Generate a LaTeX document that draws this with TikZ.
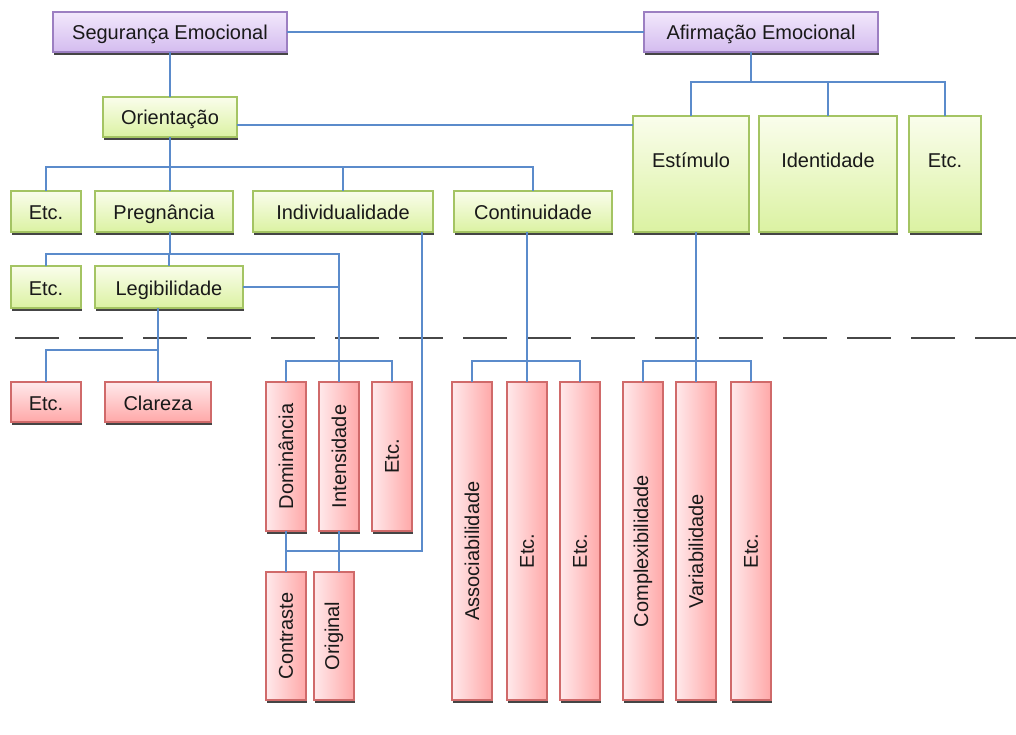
\documentclass[tikz,border=0pt]{standalone}
\usepackage{fontspec}
\setmainfont{Liberation Sans}
\usetikzlibrary{shadows}

\definecolor{purpTop}{HTML}{F2E8FC}
\definecolor{purpBot}{HTML}{D4BCEF}
\definecolor{purpLine}{HTML}{9C7FC2}
\definecolor{grnTop}{HTML}{FAFDEC}
\definecolor{grnBot}{HTML}{DBF2A2}
\definecolor{grnLine}{HTML}{A4C463}
\definecolor{redLight}{HTML}{FFE9EB}
\definecolor{redDark}{HTML}{FFA8A8}
\definecolor{redLine}{HTML}{D06A6A}
\definecolor{linkBlue}{HTML}{5B8BCB}
\definecolor{shadowGray}{HTML}{454545}

\tikzset{
  box/.style={draw, line width=1.1pt, inner sep=0pt, outer sep=0pt,
    text=black!90, font=\fontsize{20}{24}\selectfont,
    drop shadow={shadow xshift=0.6pt, shadow yshift=-3pt, fill=shadowGray, opacity=1}},
  flat/.style={text height=16pt, text depth=0pt},
  lilac/.style={box, flat, draw=purpLine, top color=purpTop, bottom color=purpBot},
  lime/.style={box, flat, draw=grnLine, top color=grnTop, bottom color=grnBot},
  rose/.style={box, flat, draw=redLine, top color=redLight, bottom color=redDark},
  roseV/.style={box, draw=redLine, left color=redLight, right color=redDark},
  link/.style={draw=linkBlue, line width=1.8pt},
  cutline/.style={draw=black!72, line width=1.6pt, dash pattern=on 44pt off 20pt}
}
\newcommand{\vtext}[1]{\rotatebox{90}{#1}}

\begin{document}
\begin{tikzpicture}[x=1pt,y=-1pt]
\useasboundingbox[fill=white] (0,0) rectangle (1016,735);

% upper level
\node[lilac, minimum width=234pt, minimum height=40pt] (seg) at (170,32) {Segurança Emocional};
\node[lilac, minimum width=234pt, minimum height=40pt] (afi) at (761,32) {Afirmação Emocional};
\node[lime, minimum width=134pt, minimum height=40pt] (ori) at (170,117) {Orientação};
\node[lime, minimum width=116pt, minimum height=116pt] (est) at (691,174) {\raisebox{14pt}{Estímulo}};
\node[lime, minimum width=138pt, minimum height=116pt] (idt) at (828,174) {\raisebox{14pt}{Identidade}};
\node[lime, minimum width=72pt, minimum height=116pt] (etcA) at (945,174) {\raisebox{14pt}{Etc.}};

\node[lime, minimum width=70pt, minimum height=41pt] (etcB) at (46,211.5) {Etc.};
\node[lime, minimum width=138pt, minimum height=41pt] (pre) at (164,211.5) {Pregnância};
\node[lime, minimum width=180pt, minimum height=41pt] (ind) at (343,211.5) {Individualidade};
\node[lime, minimum width=158pt, minimum height=41pt] (con) at (533,211.5) {Continuidade};

\node[lime, minimum width=70pt, minimum height=42pt] (etcC) at (46,287) {Etc.};
\node[lime, minimum width=148pt, minimum height=42pt] (leg) at (169,287) {Legibilidade};

% dashed separator
\draw[cutline] (15,338) -- (1016,338);

% lower level
\node[rose, minimum width=70pt, minimum height=40pt] (etcD) at (46,402) {Etc.};
\node[rose, minimum width=106pt, minimum height=40pt] (cla) at (158,402) {Clareza};

\node[roseV, minimum width=40pt, minimum height=149pt] (dom) at (286,456.5) {\vtext{Dominância}};
\node[roseV, minimum width=40pt, minimum height=149pt] (int) at (339,456.5) {\vtext{Intensidade}};
\node[roseV, minimum width=40pt, minimum height=149pt] (etcE) at (392,456.5) {\vtext{Etc.}};
\node[roseV, minimum width=40pt, minimum height=128pt] (ctr) at (286,636) {\vtext{Contraste}};
\node[roseV, minimum width=40pt, minimum height=128pt] (orig) at (334,636) {\vtext{Original}};

\node[roseV, minimum width=40pt, minimum height=318pt] (ass) at (472,541) {\vtext{Associabilidade\hspace{20pt}}};
\node[roseV, minimum width=40pt, minimum height=318pt] (etcF) at (527,541) {\vtext{Etc.\hspace{20pt}}};
\node[roseV, minimum width=40pt, minimum height=318pt] (etcG) at (580,541) {\vtext{Etc.\hspace{20pt}}};
\node[roseV, minimum width=40pt, minimum height=318pt] (cpx) at (643,541) {\vtext{Complexibilidade\hspace{20pt}}};
\node[roseV, minimum width=40pt, minimum height=318pt] (var) at (696,541) {\vtext{Variabilidade\hspace{20pt}}};
\node[roseV, minimum width=40pt, minimum height=318pt] (etcH) at (751,541) {\vtext{Etc.\hspace{20pt}}};

% bus points
\coordinate (oribus) at (170,167);
\coordinate (afibus) at (751,82);
\coordinate (prebus) at (170,254);
\coordinate (legbus) at (158,350);
\coordinate (intbus) at (339,361);
\coordinate (indbus) at (422,551);
\coordinate (conbus) at (527,361);
\coordinate (estbus) at (696,361);

% connectors
\draw[link] (seg.east) -- (afi.west);
\draw[link] (seg.south) -- (seg.south |- ori.north);
\draw[link] ([yshift=-8pt]ori.east) -- ([yshift=-8pt]ori.east -| est.west);
\draw[link] ([xshift=-10pt]afi.south) -- (afibus);
\draw[link] (est.north) |- (afibus) -| (etcA.north);
\draw[link] (idt.north) -- (idt.north |- afibus);
\draw[link] (ori.south) -- (ori.south |- pre.north);
\draw[link] (etcB.north) |- (oribus) -| (con.north);
\draw[link] (ind.north) -- (ind.north |- oribus);
\draw[link] (ori.south |- pre.south) -- (prebus);
\draw[link] (etcC.north) |- (prebus) -| (int.north);
\draw[link] (leg.north) -- (leg.north |- prebus);
\draw[link] (leg.east) -- (leg.east -| int.north);
\draw[link] (cla.north |- leg.south) -- (cla.north);
\draw[link] (etcD.north) |- (legbus);
\draw[link] (dom.north) |- (intbus) -| (etcE.north);
\draw[link] ([xshift=-11pt]ind.south east) -- (indbus) -- (indbus -| dom.south);
\draw[link] (dom.south) -- (ctr.north);
\draw[link] (int.south) -- (int.south |- orig.north);
\draw[link] (etcF.north |- con.south) -- (etcF.north);
\draw[link] (ass.north) |- (conbus) -| (etcG.north);
\draw[link] (var.north |- est.south) -- (var.north);
\draw[link] (cpx.north) |- (estbus) -| (etcH.north);
\end{tikzpicture}
\end{document}
